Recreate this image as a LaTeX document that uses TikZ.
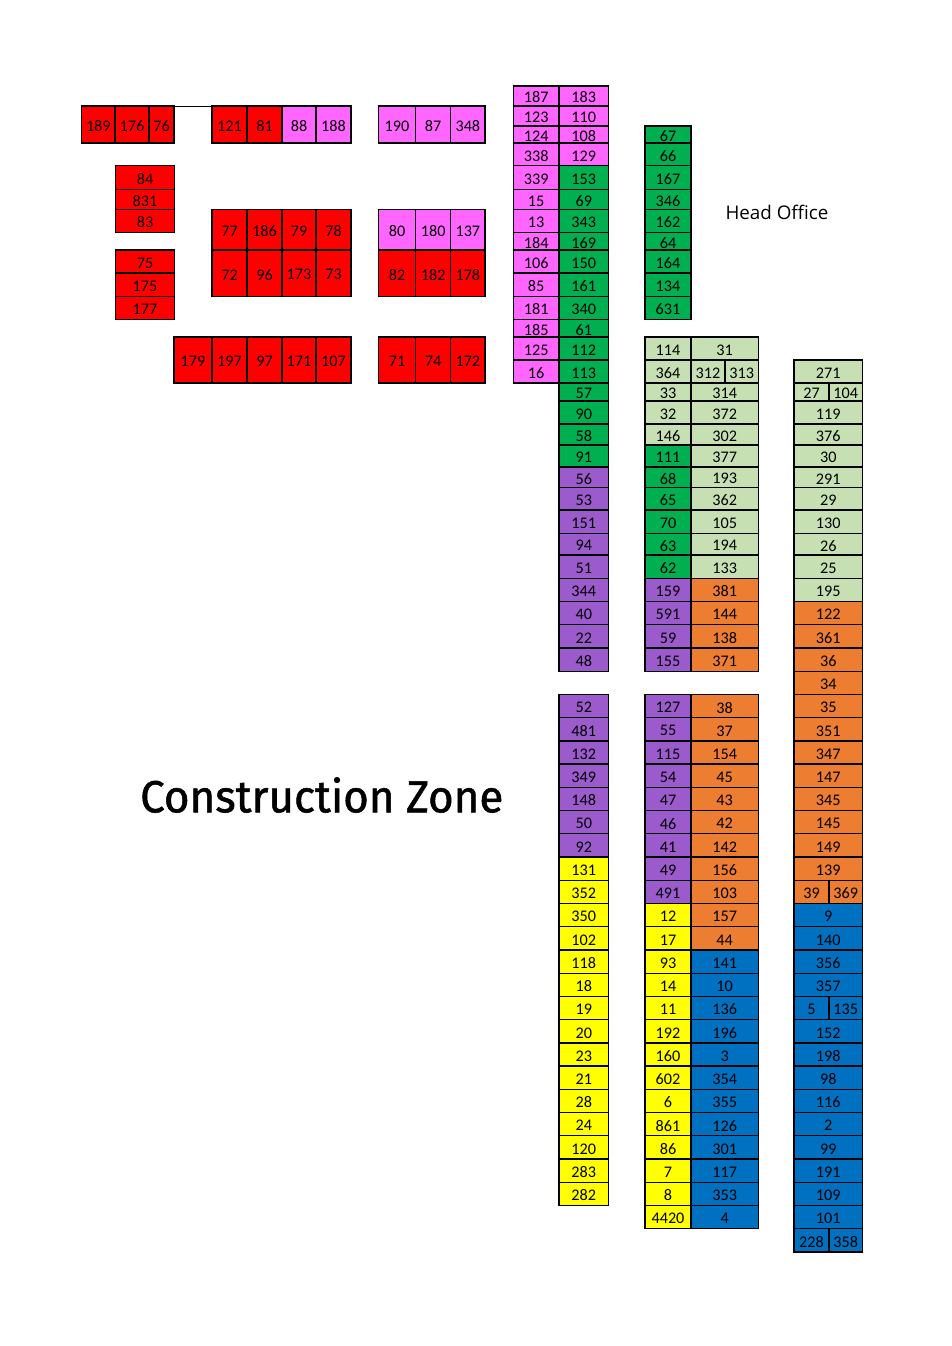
\documentclass[tikz,border=0pt]{standalone}
\usepackage{fontspec}
\setmainfont{Carlito}
\newfontfamily\hofont{Open Sans}
\newfontfamily\czfont[FakeBold=1.2]{Fira Sans}
\definecolor{cred}{HTML}{FF0000}
\definecolor{cpink}{HTML}{FF66FF}
\definecolor{cgreen}{HTML}{00B050}
\definecolor{clg}{HTML}{C6E0B4}
\definecolor{cpur}{HTML}{9C5BCD}
\definecolor{corg}{HTML}{ED7D31}
\definecolor{cblue}{HTML}{0070C0}
\definecolor{cyel}{HTML}{FFFF00}
\def\RR{{86,106,126,143,165.5,189.5,209.3,232.5,250,273,296.5,319.5,337,360,383,401,424,445,467,487.5,510,533.3,555,578.3,601.5,624.8,648,671.2,694.5,717.7,740.9,764.1,787.4,810.6,833.8,857.1,880.3,903.5,926.8,950,973.2,996.4,1019.7,1042.9,1066.1,1089.4,1112.6,1135.8,1159.1,1182.3,1205.5,1228.7,1252}}
\tikzset{
  cellline/.style={draw=black,line width=1.3pt},
  celltext/.style={inner sep=0pt,font=\fontsize{16.2}{19}\selectfont,text=black,yshift=-1.5pt},
}
% name, x1, x2, row1, row2 (exclusive), colour, text
\newcommand{\cellr}[7]{%
  \pgfmathsetmacro{\yA}{\RR[#4]}%
  \pgfmathsetmacro{\yB}{\RR[#5]}%
  \draw[cellline,fill=#6] (#2,\yA) rectangle (#3,\yB);
  \node[celltext] (#1) at ({(#2+#3)/2},{(\yA+\yB)/2}) {#7};
}
% prefix, x1, x2, start row, list text/colour
\newcommand{\colr}[5]{%
  \foreach \t/\c [count=\i from #4] in {#5} {%
    \pgfmathtruncatemacro{\j}{\i+1}%
    \cellr{#1\t}{#2}{#3}{\i}{\j}{\c}{\t}%
  }%
}
\begin{document}
\begin{tikzpicture}[x=1pt,y=-1pt]
\useasboundingbox (0,0) rectangle (952,1346);
% ---- top-left groups
\cellr{a189}{81.7}{115}{1}{3}{cred}{189}
\cellr{a176}{115}{149}{1}{3}{cred}{176}
\cellr{a76}{149}{174}{1}{3}{cred}{76}
\coordinate (g1) at (174,106);
\coordinate (g2) at (212,106);
\draw[line width=1pt] (g1) -- (g2);
\cellr{b121}{212}{247}{1}{3}{cred}{121}
\cellr{b81}{247}{282}{1}{3}{cred}{81}
\cellr{b88}{282}{316}{1}{3}{cpink}{88}
\cellr{b188}{316}{351}{1}{3}{cpink}{188}
\cellr{c190}{378.3}{415.7}{1}{3}{cpink}{190}
\cellr{c87}{415.7}{450.7}{1}{3}{cpink}{87}
\cellr{c348}{450.7}{485}{1}{3}{cpink}{348}
\colr{d}{115.7}{174.3}{4}{84/cred,831/cred,83/cred}
\colr{e}{115.7}{174.3}{8}{75/cred,175/cred,177/cred}
\cellr{f77}{212}{247}{6}{8}{cred}{77}
\cellr{f186}{247}{282}{6}{8}{cred}{186}
\cellr{f79}{282}{316}{6}{8}{cred}{79}
\cellr{f78}{316}{351}{6}{8}{cred}{78}
\cellr{f72}{212}{247}{8}{10}{cred}{72}
\cellr{f96}{247}{282}{8}{10}{cred}{96}
\cellr{f173}{282}{316}{8}{10}{cred}{173}
\cellr{f73}{316}{351}{8}{10}{cred}{73}
\cellr{g80}{378.3}{415.7}{6}{8}{cpink}{80}
\cellr{g180}{415.7}{450.7}{6}{8}{cpink}{180}
\cellr{g137}{450.7}{485}{6}{8}{cpink}{137}
\cellr{g82}{378.3}{415.7}{8}{10}{cred}{82}
\cellr{g182}{415.7}{450.7}{8}{10}{cred}{182}
\cellr{g178}{450.7}{485}{8}{10}{cred}{178}
\cellr{h179}{174}{212}{12}{14}{cred}{179}
\cellr{h197}{212}{247}{12}{14}{cred}{197}
\cellr{h97}{247}{282}{12}{14}{cred}{97}
\cellr{h171}{282}{316}{12}{14}{cred}{171}
\cellr{h107}{316}{351}{12}{14}{cred}{107}
\cellr{i71}{378.3}{415.7}{12}{14}{cred}{71}
\cellr{i74}{415.7}{450.7}{12}{14}{cred}{74}
\cellr{i172}{450.7}{485}{12}{14}{cred}{172}
% ---- pink / green column
\colr{p}{513.3}{559}{0}{187/cpink,123/cpink,124/cpink,338/cpink,339/cpink,15/cpink,13/cpink,184/cpink,106/cpink,85/cpink,181/cpink,185/cpink,125/cpink,16/cpink}
\colr{q}{559}{608.5}{0}{183/cpink,110/cpink,108/cpink,129/cpink,153/cgreen,69/cgreen,343/cgreen,169/cgreen,150/cgreen,161/cgreen,340/cgreen,61/cgreen,112/cgreen,113/cgreen,57/cgreen,90/cgreen,58/cgreen,91/cgreen,56/cpur,53/cpur,151/cpur,94/cpur,51/cpur,344/cpur,40/cpur,22/cpur,48/cpur}
\colr{q}{559}{608.5}{28}{52/cpur,481/cpur,132/cpur,349/cpur,148/cpur,50/cpur,92/cpur,131/cyel,352/cyel,350/cyel,102/cyel,118/cyel,18/cyel,19/cyel,20/cyel,23/cyel,21/cyel,28/cyel,24/cyel,120/cyel,283/cyel,282/cyel}
% ---- green column
\colr{s}{645}{691}{2}{67/cgreen,66/cgreen,167/cgreen,346/cgreen,162/cgreen,64/cgreen,164/cgreen,134/cgreen,631/cgreen}
\node[font=\hofont\fontsize{18.8}{22}\selectfont,anchor=base,inner sep=0pt] (ho) at (777,219.3) {Head Office};
% ---- middle double column
\colr{m}{645}{691}{12}{114/clg,364/clg,33/clg,32/clg,146/clg,111/cgreen,68/cgreen,65/cgreen,70/cgreen,63/cgreen,62/cgreen,159/cpur,591/cpur,59/cpur,155/cpur}
\colr{n}{691}{758.3}{12}{31/clg}
\cellr{n312}{691}{725}{13}{14}{clg}{312}
\cellr{n313}{725}{758.3}{13}{14}{clg}{313}
\colr{n}{691}{758.3}{14}{314/clg,372/clg,302/clg,377/clg,193/clg,362/clg,105/clg,194/clg,133/clg,381/corg,144/corg,138/corg,371/corg}
\colr{m}{645}{691}{28}{127/cpur,55/cpur,115/cpur,54/cpur,47/cpur,46/cpur,41/cpur,49/cpur,491/cpur,12/cyel,17/cyel,93/cyel,14/cyel,11/cyel,192/cyel,160/cyel,602/cyel,6/cyel,861/cyel,86/cyel,7/cyel,8/cyel,4420/cyel}
\colr{n}{691}{758.3}{28}{38/corg,37/corg,154/corg,45/corg,43/corg,42/corg,142/corg,156/corg,103/corg,157/corg,44/corg,141/cblue,10/cblue,136/cblue,196/cblue,3/cblue,354/cblue,355/cblue,126/cblue,301/cblue,117/cblue,353/cblue,4/cblue}
% ---- right column
\colr{r}{794}{862.5}{13}{271/clg}
\cellr{r27}{794}{829}{14}{15}{clg}{27}
\cellr{r104}{829}{862.5}{14}{15}{clg}{104}
\colr{r}{794}{862.5}{15}{119/clg,376/clg,30/clg,291/clg,29/clg,130/clg,26/clg,25/clg,195/clg,122/corg,361/corg,36/corg,34/corg,35/corg,351/corg,347/corg,147/corg,345/corg,145/corg,149/corg,139/corg}
\cellr{r39}{794}{829}{36}{37}{corg}{39}
\cellr{r369}{829}{862.5}{36}{37}{corg}{369}
\colr{r}{794}{862.5}{37}{9/cblue,140/cblue,356/cblue,357/cblue}
\cellr{r5}{794}{829}{41}{42}{cblue}{5}
\cellr{r135}{829}{862.5}{41}{42}{cblue}{135}
\colr{r}{794}{862.5}{42}{152/cblue,198/cblue,98/cblue,116/cblue,2/cblue,99/cblue,191/cblue,109/cblue,101/cblue}
\cellr{r228}{794}{829}{51}{52}{cblue}{228}
\cellr{r358}{829}{862.5}{51}{52}{cblue}{358}
% ---- construction zone
\node[anchor=south west,inner sep=0pt] (cz) at (140,813) {\resizebox{363pt}{35pt}{\czfont Construction Zone}};
\end{tikzpicture}
\end{document}
